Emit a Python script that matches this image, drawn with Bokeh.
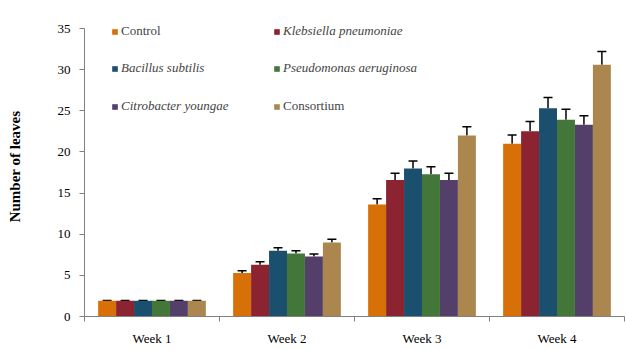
from bokeh.plotting import figure
from bokeh.models import (Range1d, FixedTicker, Whisker, TeeHead, ColumnDataSource,
                          Legend, LegendItem, SingleIntervalTicker)
from bokeh.embed import file_html
from bokeh.resources import INLINE

weeks = ["Week 1", "Week 2", "Week 3", "Week 4"]
series = ["Control", "Klebsiella pneumoniae", "Bacillus subtilis",
          "Pseudomonas aeruginosa", "Citrobacter youngae", "Consortium"]
italic = [False, True, True, True, True, False]
colors = ["#D77007", "#8B2330", "#1A4F6E", "#43773A", "#533F6A", "#AB874F"]

control = [1.9, 5.3, 13.6, 21.0]
klebsiella = [1.9, 6.3, 16.6, 22.5]
bacillus = [1.9, 8.0, 18.0, 25.3]
pseudomonas = [1.9, 7.65, 17.3, 23.9]
citrobacter = [1.9, 7.3, 16.6, 23.3]
consortium = [1.9, 9.0, 22.0, 30.6]

control_err = [0.05, 0.25, 0.7, 1.05]
klebsiella_err = [0.05, 0.35, 0.8, 1.2]
bacillus_err = [0.05, 0.35, 0.9, 1.3]
pseudomonas_err = [0.05, 0.35, 0.9, 1.3]
citrobacter_err = [0.05, 0.3, 0.8, 1.1]
consortium_err = [0.05, 0.4, 1.05, 1.6]

values = [control, klebsiella, bacillus, pseudomonas, citrobacter, consortium]
errors = [control_err, klebsiella_err, bacillus_err, pseudomonas_err,
          citrobacter_err, consortium_err]

FONT = "Liberation Serif"

# frame: top at 16px, bottom at 316px; value 35 sits at 28px
y_top = 35 * 300 / 288
p = figure(width=626, height=350, output_backend="svg", toolbar_location=None,
           x_range=Range1d(0, 4), y_range=Range1d(0, y_top),
           min_border_left=84, min_border_right=2, min_border_top=16,
           min_border_bottom=34)
p.outline_line_color = None
p.xgrid.visible = False
p.ygrid.visible = False

bar_w = 0.133
renderers = []
for j, (name, vals, errs, col) in enumerate(zip(series, values, errors, colors)):
    xs = [i + 0.5 + (j - 2.5) * bar_w for i in range(len(weeks))]
    src = ColumnDataSource(dict(x=xs, top=vals,
                                upper=[v + e for v, e in zip(vals, errs)]))
    r = p.vbar(x="x", top="top", width=bar_w, source=src, fill_color=col,
               line_color=None)
    renderers.append(r)
    w = Whisker(base="x", lower="top", upper="upper", source=src,
                line_color="black", line_width=1.5,
                upper_head=TeeHead(size=9, line_color="black", line_width=1.5),
                lower_head=None)
    p.add_layout(w)

# x axis: labels at centers, ticks at boundaries
xt = FixedTicker(ticks=[i + 0.5 for i in range(len(weeks))],
                 minor_ticks=list(range(len(weeks) + 1)))
p.xaxis.ticker = xt
p.xaxis.major_label_overrides = {i + 0.5: w for i, w in enumerate(weeks)}
p.xaxis.major_tick_out = 0
p.xaxis.major_tick_in = 0
p.xaxis.minor_tick_out = 5
p.xaxis.minor_tick_in = 0
p.xaxis.major_label_standoff = 9
p.xaxis.major_label_text_font = FONT
p.xaxis.major_label_text_font_size = "13px"
p.xaxis.major_label_text_color = "black"
p.xaxis.axis_line_color = "#808080"
p.xaxis.minor_tick_line_color = "#808080"

p.yaxis.ticker = SingleIntervalTicker(interval=5)
p.yaxis.bounds = (0, 35)
p.yaxis.minor_tick_line_color = None
p.yaxis.major_tick_out = 5
p.yaxis.major_tick_in = 0
p.yaxis.major_label_standoff = 9
p.yaxis.major_label_text_font = FONT
p.yaxis.major_label_text_font_size = "13px"
p.yaxis.major_label_text_color = "black"
p.yaxis.axis_line_color = "#808080"
p.yaxis.major_tick_line_color = "#808080"
p.yaxis.axis_label = "Number of leaves"
p.yaxis.axis_label_text_font = FONT
p.yaxis.axis_label_text_font_style = "bold"
p.yaxis.axis_label_text_font_size = "15px"
p.yaxis.axis_label_text_color = "black"
p.yaxis.axis_label_standoff = 32

# legend: 3 rows x 2 columns
col_x = [27, 189]
row_y = [277, 240, 202]
for j, (name, r) in enumerate(zip(series, renderers)):
    row, c = j // 2, j % 2
    lg = Legend(items=[LegendItem(label=name, renderers=[r])],
                location=(col_x[c], row_y[row]),
                border_line_color=None, background_fill_alpha=0,
                padding=0, margin=0, glyph_width=7, glyph_height=7,
                label_standoff=3, label_text_font=FONT,
                label_text_font_size="13px",
                label_text_font_style="italic" if italic[j] else "normal")
    p.add_layout(lg)

open("out.html", "w").write(file_html(p, INLINE))
